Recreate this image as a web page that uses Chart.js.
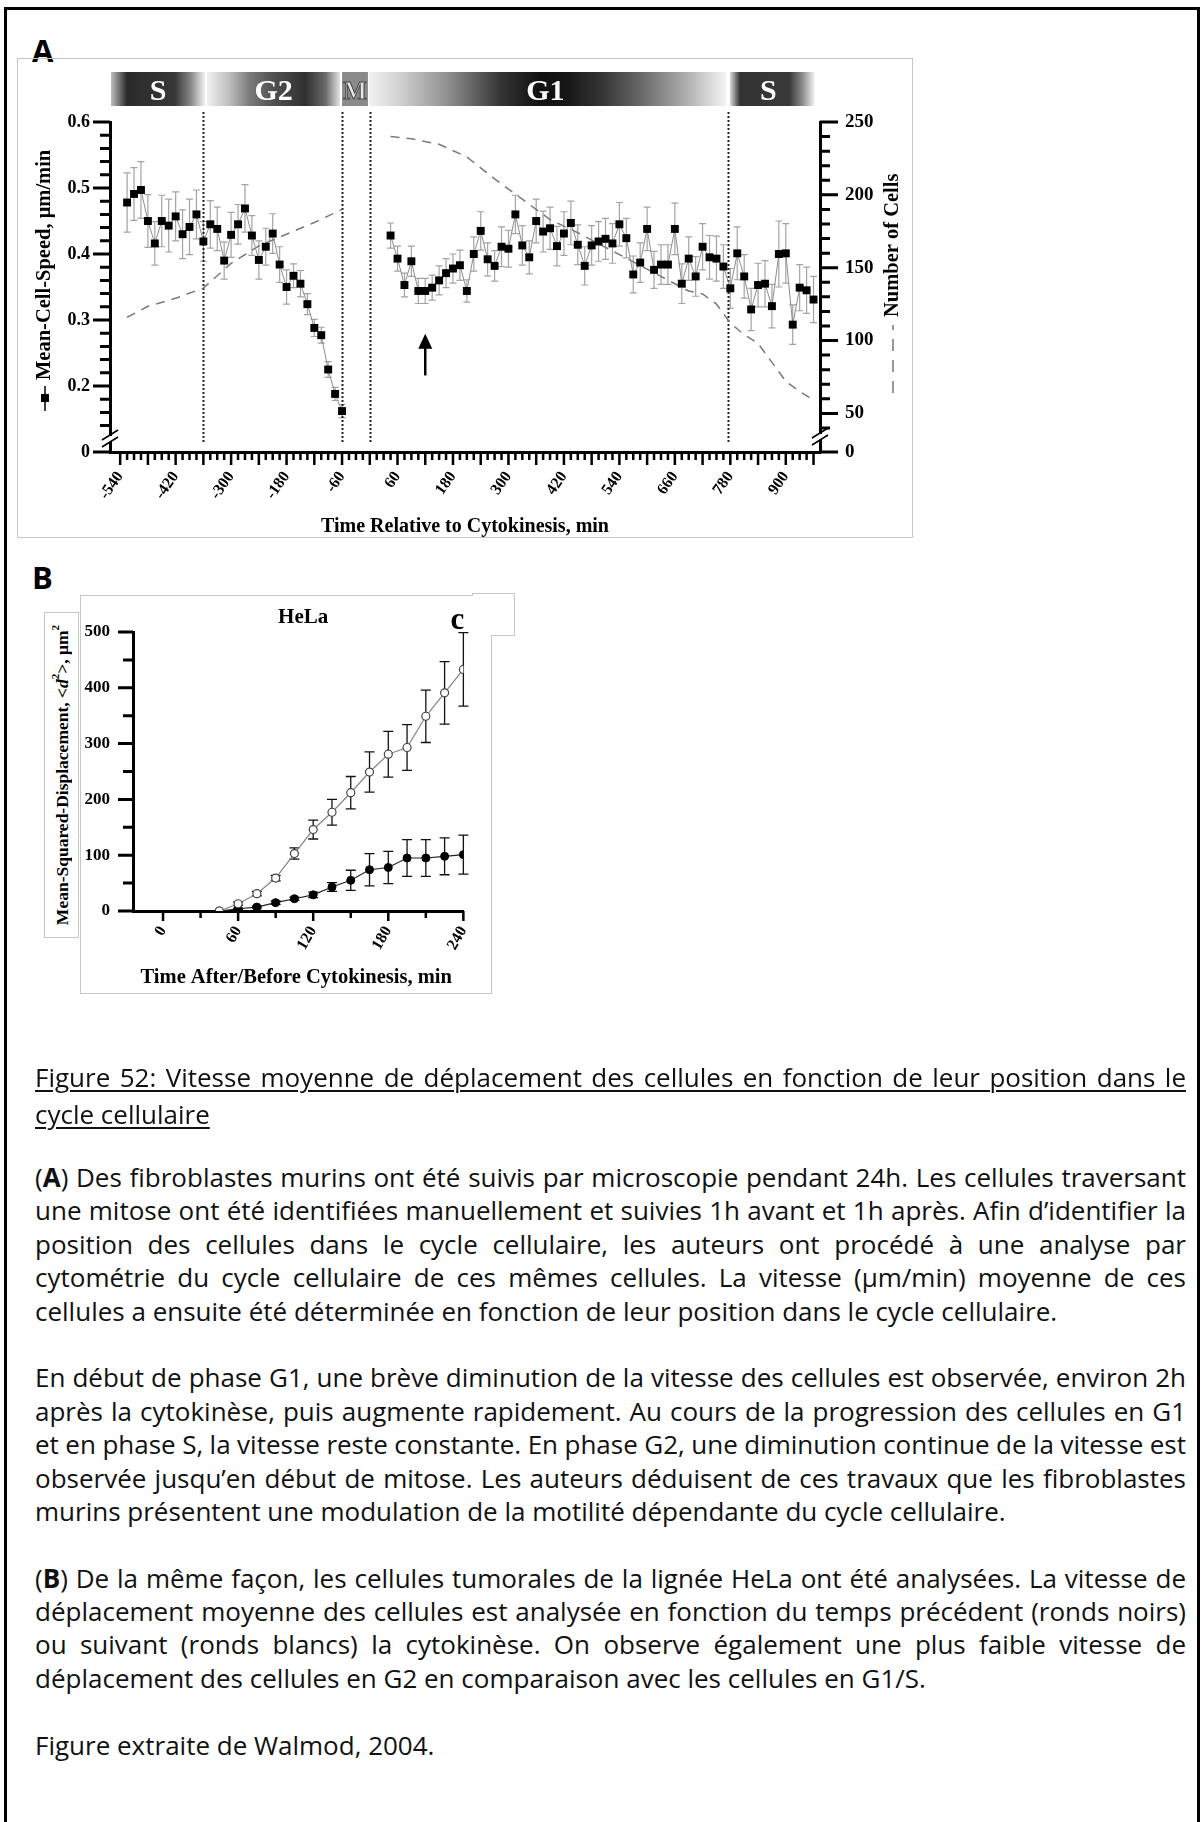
<!DOCTYPE html>
<html>
<head>
<meta charset="utf-8">
<title>Figure 52</title>
<script src="https://cdn.jsdelivr.net/npm/chart.js@4.4.1/dist/chart.umd.min.js"></script>
<style>
  html, body { margin: 0; padding: 0; background: #fff; }
  body { width: 1202px; height: 1822px; position: relative; overflow: hidden; }
  .frame { position: absolute; left: 4px; top: 7px; width: 1190px; height: 1830px; border: 3px solid #000; border-bottom: none; }
  .plabel { position: absolute; font: bold 31px "Open Sans", sans-serif; line-height: 31px; color: #000; }
  #boxA { position: absolute; left: 17px; top: 58px; width: 896px; height: 480px; }
  #boxB { position: absolute; left: 80px; top: 595px; width: 412px; height: 398px; }
  #frames { position: absolute; left: 0; top: 0; pointer-events: none; }
  #ytitleB { position: absolute; left: 44px; top: 612px; width: 34px; height: 326px; display: flex; align-items: center; justify-content: center; }
  #ytitleB span { writing-mode: vertical-rl; transform: rotate(180deg); font: bold 17.5px "Liberation Serif", serif; white-space: nowrap; }
  #ytitleB sup { font-size: 11px; }
  .text { position: absolute; left: 35px; width: 1151px; font-family: "Open Sans", sans-serif; font-size: 26px; color: #111; }
  .text div { white-space: nowrap; height: 33.4px; line-height: 33.4px; }
  #title div { height: 37px; line-height: 37px; }
  .u { text-decoration: underline; text-decoration-thickness: 2px; text-underline-offset: 3px; }
</style>
</head>
<body>
<div class="frame"></div>
<div class="plabel" style="left:32px; top:35px">A</div>
<div class="plabel" style="left:32px; top:562px">B</div>

<div id="boxA"><canvas id="chartA" width="896" height="480"></canvas></div>
<div id="boxB"><canvas id="chartB" width="412" height="398"></canvas></div>
<div id="ytitleB"><span>Mean-Squared-Displacement, &lt;<i>d</i><sup>2</sup>&gt;, μm<sup>2</sup></span></div>

<svg id="frames" width="1202" height="1100">
  <g stroke="#c6c6c6" stroke-width="1" fill="none" shape-rendering="crispEdges">
    <rect x="17.5" y="58.5" width="895" height="479"/>
    <polyline points="472,595.5 80.5,595.5 80.5,993.5 491.5,993.5 491.5,635.5 514.5,635.5 514.5,593.5 472,593.5 472,595.5"/>
    <rect x="44.5" y="612.5" width="34" height="325"/>
  </g>
</svg>

<div class="text" id="title" style="top:1059px">
  <div class="j"><span class="u">Figure 52: Vitesse moyenne de déplacement des cellules en fonction de leur position dans le</span></div>
  <div><span class="u">cycle cellulaire</span></div>
</div>

<div class="text" id="body" style="top:1161px">
  <div class="j"><span>(<b>A</b>) Des fibroblastes murins ont été suivis par microscopie pendant 24h. Les cellules traversant</span></div>
  <div class="j"><span>une mitose ont été identifiées manuellement et suivies 1h avant et 1h après. Afin d’identifier la</span></div>
  <div class="j"><span>position des cellules dans le cycle cellulaire, les auteurs ont procédé à une analyse par</span></div>
  <div class="j"><span>cytométrie du cycle cellulaire de ces mêmes cellules. La vitesse (µm/min) moyenne de ces</span></div>
  <div><span>cellules a ensuite été déterminée en fonction de leur position dans le cycle cellulaire.</span></div>
  <div></div>
  <div class="j"><span>En début de phase G1, une brève diminution de la vitesse des cellules est observée, environ 2h</span></div>
  <div class="j"><span>après la cytokinèse, puis augmente rapidement. Au cours de la progression des cellules en G1</span></div>
  <div class="j"><span>et en phase S, la vitesse reste constante. En phase G2, une diminution continue de la vitesse est</span></div>
  <div class="j"><span>observée jusqu’en début de mitose. Les auteurs déduisent de ces travaux que les fibroblastes</span></div>
  <div><span>murins présentent une modulation de la motilité dépendante du cycle cellulaire.</span></div>
  <div></div>
  <div class="j"><span>(<b>B</b>) De la même façon, les cellules tumorales de la lignée HeLa ont été analysées. La vitesse de</span></div>
  <div class="j"><span>déplacement moyenne des cellules est analysée en fonction du temps précédent (ronds noirs)</span></div>
  <div class="j"><span>ou suivant (ronds blancs) la cytokinèse. On observe également une plus faible vitesse de</span></div>
  <div><span>déplacement des cellules en G2 en comparaison avec les cellules en G1/S.</span></div>
  <div></div>
  <div><span>Figure extraite de Walmod, 2004.</span></div>
</div>

<script>
// ---- Panel A: mean cell speed (left axis) and number of cells (right axis)
var speedTimesBefore = [-525, -510, -495, -480, -465, -450, -435, -420, -405, -390, -375, -360, -345, -330, -315, -300,
  -285, -270, -255, -240, -225, -210, -195, -180, -165, -150, -135, -120, -105, -90, -75, -60];
var speedBefore = [0.478, 0.491, 0.497, 0.450, 0.416, 0.450, 0.443, 0.457, 0.430, 0.441, 0.460, 0.419, 0.445, 0.438, 0.390, 0.429,
  0.445, 0.469, 0.428, 0.391, 0.411, 0.431, 0.384, 0.350, 0.367, 0.355, 0.324, 0.288, 0.277, 0.225, 0.188, 0.162];
var speedErrBefore = [0.045, 0.040, 0.043, 0.040, 0.033, 0.039, 0.040, 0.037, 0.037, 0.042, 0.037, 0.030, 0.036, 0.033, 0.028, 0.034,
  0.030, 0.036, 0.030, 0.029, 0.028, 0.030, 0.027, 0.026, 0.018, 0.020, 0.016, 0.013, 0.012, 0.012, 0.010, 0.010];

var speedTimesAfter = [45, 60, 75, 90, 105, 120, 135, 150, 165, 180, 195, 210, 225, 240, 255, 270, 285, 300, 315, 330, 345,
  360, 375, 390, 405, 420, 435, 450, 465, 480, 495, 510, 525, 540, 555, 570, 585, 600, 615, 630, 645, 660, 675, 690,
  705, 720, 735, 750, 765, 780, 795, 810, 825, 840, 855, 870, 885, 900, 915, 930, 945, 960];
var speedAfter = [0.428, 0.393, 0.353, 0.389, 0.344, 0.344, 0.349, 0.360, 0.371, 0.378, 0.383, 0.344, 0.400, 0.435, 0.392, 0.382,
  0.411, 0.408, 0.460, 0.413, 0.395, 0.450, 0.434, 0.439, 0.412, 0.431, 0.447, 0.414, 0.382, 0.413, 0.419, 0.423, 0.416, 0.445,
  0.424, 0.369, 0.387, 0.438, 0.376, 0.384, 0.384, 0.438, 0.355, 0.393, 0.366, 0.411, 0.395, 0.393, 0.381, 0.348, 0.401, 0.366,
  0.316, 0.353, 0.355, 0.321, 0.400, 0.401, 0.293, 0.349, 0.345, 0.331];
var speedErrAfter = [0.019, 0.019, 0.018, 0.023, 0.019, 0.019, 0.019, 0.022, 0.022, 0.022, 0.023, 0.017, 0.026, 0.029, 0.025, 0.023,
  0.030, 0.028, 0.029, 0.030, 0.025, 0.033, 0.031, 0.032, 0.030, 0.033, 0.033, 0.030, 0.029, 0.030, 0.030, 0.031, 0.030, 0.033,
  0.030, 0.028, 0.030, 0.033, 0.028, 0.030, 0.030, 0.039, 0.030, 0.033, 0.030, 0.035, 0.033, 0.034, 0.033, 0.030, 0.040, 0.033,
  0.032, 0.033, 0.035, 0.033, 0.050, 0.045, 0.030, 0.035, 0.035, 0.035];

var cellTimesBefore = [-525, -480, -420, -360, -300, -240, -180, -120, -60];
var cellsBefore = [116, 123.5, 129, 136, 153, 165, 173, 181, 190];
var cellTimesAfter = [45, 90, 150, 210, 270, 330, 390, 450, 510, 570, 630, 690, 720, 750, 780, 810, 840, 870, 900, 930, 960];
var cellsAfter = [240, 238.5, 234.7, 226, 211, 197, 183, 174, 164, 154, 144, 134, 132, 125, 112, 104, 98, 85, 72, 65, 59];

var xTickLabelsA = [-540, -420, -300, -180, -60, 60, 180, 300, 420, 540, 660, 780, 900];
var yTickValuesA = [0.1, 0.2, 0.3, 0.4, 0.5, 0.6];
var yTickLabelsA = ['0', '0.2', '0.3', '0.4', '0.5', '0.6'];
var y2TickValuesA = [23.5, 50, 100, 150, 200, 250];
var y2TickLabelsA = ['0', '50', '100', '150', '200', '250'];

var phaseNames = ['S', 'G2', 'M', 'G1', 'S'];
var phaseStart = [-560, -352, -60, -2, 779];
var phaseEnd = [-356, -64, -4, 772, 963];
var phaseLabelAt = [-458, -208, -32, 380, 862];
var phaseLines = [-360, -60, 0, 775];
var arrowTime = 120, arrowFrom = 0.216, arrowTo = 0.279;

// ---- Panel B: HeLa mean squared displacement
var msdTimes = [45, 60, 75, 90, 105, 120, 135, 150, 165, 180, 195, 210, 225, 240];
var msdAfter = [0, 13, 31, 59, 103, 146, 177, 212, 249, 281, 293, 349, 391, 433];
var msdErrAfter = [0, 3, 4, 5, 10, 17, 23, 29, 36, 41, 41, 47, 56, 66];
var msdBefore = [0, 4, 7, 15, 22, 29, 43, 55, 74, 78, 95, 95, 98, 101];
var msdErrBefore = [0, 1, 2, 3, 3, 5, 8, 18, 29, 29, 33, 33, 33, 35];
var xTickLabelsB = [0, 60, 120, 180, 240];
var yTickLabelsB = [0, 100, 200, 300, 400, 500];

function pairs(xs, ys) {
  return xs.map(function (x, i) { return { x: x, y: ys[i] }; });
}

var SERIF = '"Liberation Serif", "Times New Roman", serif';
Chart.defaults.font.family = SERIF;
Chart.defaults.color = '#000';
Chart.defaults.animation = false;
Chart.defaults.events = [];
Chart.defaults.plugins.legend.display = false;
Chart.defaults.plugins.tooltip.enabled = false;

// vertical error bars drawn under the points
var errorBars = {
  id: 'errorBars',
  beforeDatasetsDraw: function (chart) {
    var ctx = chart.ctx;
    chart.data.datasets.forEach(function (ds, i) {
      if (!ds.errors) return;
      var meta = chart.getDatasetMeta(i);
      var ys = chart.scales[meta.yAxisID];
      ctx.save();
      ctx.strokeStyle = ds.errorColor;
      ctx.lineWidth = ds.errorWidth;
      ctx.beginPath();
      meta.data.forEach(function (pt, j) {
        var e = ds.errors[j];
        if (!e) return;
        var v = ds.data[j].y;
        var top = ys.getPixelForValue(v + e), bot = ys.getPixelForValue(v - e), w = ds.capHalf;
        ctx.moveTo(pt.x, top); ctx.lineTo(pt.x, bot);
        ctx.moveTo(pt.x - w, top); ctx.lineTo(pt.x + w, top);
        ctx.moveTo(pt.x - w, bot); ctx.lineTo(pt.x + w, bot);
      });
      ctx.stroke();
      ctx.restore();
    });
  }
};

function drawTicks(ctx, scale, values, isMajor, majorLen, minorLen, side, width) {
  ctx.save();
  ctx.strokeStyle = '#000';
  ctx.lineWidth = width;
  ctx.beginPath();
  values.forEach(function (v) {
    var p = scale.getPixelForValue(v);
    var len = isMajor(v) ? majorLen : minorLen;
    if (side === 'bottom') { ctx.moveTo(p, scale.top); ctx.lineTo(p, scale.top + len); }
    else if (side === 'left') { ctx.moveTo(scale.right, p); ctx.lineTo(scale.right - len, p); }
    else { ctx.moveTo(scale.left, p); ctx.lineTo(scale.left + len, p); }
  });
  ctx.stroke();
  ctx.restore();
}

function drawBreak(ctx, x, y) {
  ctx.save();
  ctx.fillStyle = '#fff';
  ctx.fillRect(x - 3, y - 3, 6, 6);
  ctx.strokeStyle = '#000';
  ctx.lineWidth = 1.6;
  ctx.beginPath();
  ctx.moveTo(x - 8, y + 1); ctx.lineTo(x + 8, y - 9);
  ctx.moveTo(x - 8, y + 8); ctx.lineTo(x + 8, y - 2);
  ctx.stroke();
  ctx.restore();
}

function verticalText(ctx, text, x, y, font) {
  ctx.save();
  ctx.translate(x, y);
  ctx.rotate(-Math.PI / 2);
  ctx.font = font;
  ctx.fillStyle = '#000';
  ctx.textAlign = 'left';
  ctx.textBaseline = 'middle';
  ctx.fillText(text, 0, 0);
  ctx.restore();
}

var phaseShades = [
  [[0, '#c0c0c0'], [0.17, '#2a2a2a'], [0.68, '#383838'], [0.85, '#8a8a8a'], [1, '#f4f4f4']],
  [[0, '#f0f0f0'], [0.17, '#bdbdbd'], [0.32, '#7a7a7a'], [0.5, '#505050'], [0.74, '#303030'], [0.89, '#6a6a6a'], [1, '#e6e6e6']],
  [[0, '#8a8a8a'], [1, '#8a8a8a']],
  [[0, '#f2f2f2'], [0.09, '#cfcfcf'], [0.23, '#8a8a8a'], [0.37, '#333333'], [0.48, '#111111'], [0.55, '#161616'],
    [0.65, '#343434'], [0.76, '#686868'], [0.88, '#aaaaaa'], [1, '#f5f5f5']],
  [[0, '#dcdcdc'], [0.12, '#333333'], [0.7, '#3a3a3a'], [0.85, '#8a8a8a'], [1, '#f5f5f5']]
];

var panelAExtras = {
  id: 'panelAExtras',
  beforeDatasetsDraw: function (chart) {
    var ctx = chart.ctx, xs = chart.scales.x, area = chart.chartArea;
    // cell-cycle phase band above the plot
    phaseNames.forEach(function (name, i) {
      var x0 = xs.getPixelForValue(phaseStart[i]), x1 = xs.getPixelForValue(phaseEnd[i]);
      var g = ctx.createLinearGradient(x0, 0, x1, 0);
      phaseShades[i].forEach(function (s) { g.addColorStop(s[0], s[1]); });
      ctx.fillStyle = g;
      ctx.fillRect(x0, area.top - 50, x1 - x0, 34);
      var cx = xs.getPixelForValue(phaseLabelAt[i]);
      ctx.save();
      ctx.textAlign = 'center';
      ctx.textBaseline = 'alphabetic';
      if (name === 'M') {
        ctx.font = 'bold 25px ' + SERIF;
        ctx.fillStyle = '#e6e6e6';
        ctx.strokeStyle = '#444';
        ctx.lineWidth = 1;
        ctx.fillText(name, cx, area.top - 23);
        ctx.strokeText(name, cx, area.top - 23);
      } else {
        ctx.font = 'bold 30px ' + SERIF;
        ctx.fillStyle = '#fff';
        ctx.fillText(name, cx, area.top - 22);
      }
      ctx.restore();
    });
    // dotted phase boundaries
    ctx.save();
    ctx.strokeStyle = '#222';
    ctx.lineWidth = 2;
    ctx.setLineDash([2, 2]);
    ctx.beginPath();
    phaseLines.forEach(function (t) {
      var x = Math.round(xs.getPixelForValue(t)) + 0.5;
      ctx.moveTo(x, area.top - 10);
      ctx.lineTo(x, area.bottom - 9);
    });
    ctx.stroke();
    ctx.restore();
  },
  afterDraw: function (chart) {
    var ctx = chart.ctx, xs = chart.scales.x, ys = chart.scales.y, y2 = chart.scales.y2, area = chart.chartArea;
    var xt = [], yt = [0.1], y2t = [23.5], v;
    for (v = -540; v <= 960; v += 15) xt.push(v);
    for (v = 14; v <= 60; v += 2) yt.push(v / 100);
    for (v = 40; v <= 250; v += 10) y2t.push(v);
    drawTicks(ctx, xs, xt, function (t) { return (t + 540) % 60 === 0; }, 13, 8, 'bottom', 2.5);
    drawTicks(ctx, ys, yt, function (t) { return Math.round(t * 100) % 10 === 0; }, 17, 10, 'left', 3);
    drawTicks(ctx, y2, y2t, function (t) { return t % 50 === 0 || t === 23.5; }, 18, 10, 'right', 3);
    drawBreak(ctx, area.left, area.bottom - 13);
    drawBreak(ctx, area.right, area.bottom - 15);

    // axis titles with their series markers
    var lx = area.left - 65;
    ctx.save();
    ctx.strokeStyle = '#000';
    ctx.lineWidth = 1.5;
    ctx.beginPath();
    ctx.moveTo(lx, area.bottom - 41); ctx.lineTo(lx, area.bottom - 66);
    ctx.stroke();
    ctx.fillStyle = '#000';
    ctx.fillRect(lx - 4, area.bottom - 58, 8, 8);
    ctx.restore();
    verticalText(ctx, 'Mean-Cell-Speed, μm/min', lx, area.bottom - 72, 'bold 20.5px ' + SERIF);

    var rx = area.right + 73;
    ctx.save();
    ctx.strokeStyle = '#777';
    ctx.lineWidth = 1.5;
    ctx.setLineDash([12, 9]);
    ctx.beginPath();
    ctx.moveTo(rx, area.bottom - 59); ctx.lineTo(rx, area.bottom - 127);
    ctx.stroke();
    ctx.restore();
    verticalText(ctx, 'Number of Cells', rx, area.bottom - 135, 'bold 20.5px ' + SERIF);

    ctx.save();
    ctx.font = 'bold 20px ' + SERIF;
    ctx.textAlign = 'center';
    ctx.fillStyle = '#000';
    ctx.fillText('Time Relative to Cytokinesis, min', (area.left + area.right) / 2, area.bottom + 80);
    ctx.restore();

    // arrow marking the early-G1 minimum
    var ax = xs.getPixelForValue(arrowTime), ayTip = ys.getPixelForValue(arrowTo), ayEnd = ys.getPixelForValue(arrowFrom);
    ctx.save();
    ctx.strokeStyle = '#000';
    ctx.fillStyle = '#000';
    ctx.lineWidth = 2.5;
    ctx.beginPath();
    ctx.moveTo(ax, ayEnd); ctx.lineTo(ax, ayTip + 10);
    ctx.stroke();
    ctx.beginPath();
    ctx.moveTo(ax, ayTip); ctx.lineTo(ax - 7, ayTip + 15); ctx.lineTo(ax + 7, ayTip + 15);
    ctx.closePath();
    ctx.fill();
    ctx.restore();
  }
};

var panelBExtras = {
  id: 'panelBExtras',
  afterDraw: function (chart) {
    var ctx = chart.ctx, xs = chart.scales.x, ys = chart.scales.y, area = chart.chartArea;
    var xt = [], yt = [], v;
    for (v = 0; v <= 240; v += 30) xt.push(v);
    for (v = 0; v <= 500; v += 50) yt.push(v);
    drawTicks(ctx, xs, xt, function (t) { return t % 60 === 0; }, 10, 7, 'bottom', 2.5);
    drawTicks(ctx, ys, yt, function (t) { return t % 100 === 0; }, 15, 10, 'left', 3);
    ctx.save();
    ctx.fillStyle = '#000';
    ctx.textAlign = 'center';
    ctx.font = 'bold 21px ' + SERIF;
    ctx.fillText('HeLa', (area.left + area.right) / 2 + 5, area.top - 9);
    ctx.font = 'bold 31px ' + SERIF;
    ctx.fillText('c', area.right - 6, area.top - 3);
    ctx.font = 'bold 20.5px ' + SERIF;
    ctx.fillText('Time After/Before Cytokinesis, min', (area.left + area.right) / 2 - 2, area.bottom + 72);
    ctx.restore();
  }
};

function fixedWidth(w) { return function (scale) { scale.width = w; }; }
function fixedHeight(h) { return function (scale) { scale.height = h; }; }
function setTicks(values) { return function (scale) { scale.ticks = values.map(function (v) { return { value: v }; }); }; }

document.addEventListener('DOMContentLoaded', function () {
  var tickFontA = { family: SERIF, weight: 'bold', size: 16 };

  new Chart(document.getElementById('chartA').getContext('2d'), {
    type: 'line',
    data: {
      datasets: [
        { data: pairs(speedTimesBefore, speedBefore), errors: speedErrBefore, errorColor: '#a3a3a3', errorWidth: 1.2, capHalf: 3.5,
          yAxisID: 'y', borderColor: '#8c8c8c', borderWidth: 1, pointStyle: 'rect', pointRadius: 5.6,
          pointBackgroundColor: '#000', pointBorderColor: '#000', pointBorderWidth: 0 },
        { data: pairs(speedTimesAfter, speedAfter), errors: speedErrAfter, errorColor: '#a3a3a3', errorWidth: 1.2, capHalf: 3.5,
          yAxisID: 'y', borderColor: '#8c8c8c', borderWidth: 1, pointStyle: 'rect', pointRadius: 5.6,
          pointBackgroundColor: '#000', pointBorderColor: '#000', pointBorderWidth: 0 },
        { data: pairs(cellTimesBefore, cellsBefore), yAxisID: 'y2', borderColor: '#7a7a7a', borderWidth: 1.5,
          borderDash: [9, 7], pointRadius: 0 },
        { data: pairs(cellTimesAfter, cellsAfter), yAxisID: 'y2', borderColor: '#7a7a7a', borderWidth: 1.5,
          borderDash: [9, 7], pointRadius: 0 }
      ]
    },
    options: {
      responsive: false,
      maintainAspectRatio: false,
      layout: { padding: { top: 64, left: 0, right: 0, bottom: 0 } },
      scales: {
        x: {
          type: 'linear', min: -562, max: 974, afterBuildTicks: setTicks(xTickLabelsA), afterFit: fixedHeight(86),
          grid: { display: false, drawTicks: false }, border: { display: true, color: '#000', width: 3 },
          ticks: { autoSkip: false, minRotation: 55, maxRotation: 55, padding: 16, font: tickFontA,
            callback: function (v) { return String(v); } }
        },
        y: {
          position: 'left', min: 0.1, max: 0.6, afterBuildTicks: setTicks(yTickValuesA), afterFit: fixedWidth(93),
          grid: { display: false, drawTicks: false }, border: { display: true, color: '#000', width: 3 },
          ticks: { padding: 20, font: { family: SERIF, weight: 'bold', size: 18 },
            callback: function (v, i) { return yTickLabelsA[i]; } }
        },
        y2: {
          position: 'right', min: 23.5, max: 250, afterBuildTicks: setTicks(y2TickValuesA), afterFit: fixedWidth(93),
          grid: { display: false, drawTicks: false }, border: { display: true, color: '#000', width: 3 },
          ticks: { padding: 25, font: { family: SERIF, weight: 'bold', size: 19 },
            callback: function (v, i) { return y2TickLabelsA[i]; } }
        }
      }
    },
    plugins: [errorBars, panelAExtras]
  });

  new Chart(document.getElementById('chartB').getContext('2d'), {
    type: 'line',
    data: {
      datasets: [
        { data: pairs(msdTimes, msdAfter), errors: msdErrAfter, errorColor: '#111', errorWidth: 1.3, capHalf: 5,
          borderColor: '#8a8a8a', borderWidth: 1.3, pointRadius: 4, pointBackgroundColor: '#fff',
          pointBorderColor: '#444', pointBorderWidth: 1.2 },
        { data: pairs(msdTimes, msdBefore), errors: msdErrBefore, errorColor: '#111', errorWidth: 1.3, capHalf: 5,
          borderColor: '#222', borderWidth: 1.2, pointRadius: 4, pointBackgroundColor: '#000',
          pointBorderColor: '#000', pointBorderWidth: 1 }
      ]
    },
    options: {
      responsive: false,
      maintainAspectRatio: false,
      layout: { padding: { top: 37, left: 0, right: 25, bottom: 0 } },
      scales: {
        x: {
          type: 'linear', min: -24, max: 240, afterBuildTicks: setTicks(xTickLabelsB), afterFit: fixedHeight(82),
          grid: { display: false, drawTicks: false }, border: { display: true, color: '#000', width: 3 },
          ticks: { autoSkip: false, minRotation: 60, maxRotation: 60, padding: 12,
            font: { family: SERIF, weight: 'bold', size: 16 }, callback: function (v) { return String(v); } }
        },
        y: {
          min: 0, max: 500, afterBuildTicks: setTicks(yTickLabelsB), afterFit: fixedWidth(53),
          grid: { display: false, drawTicks: false }, border: { display: true, color: '#000', width: 3 },
          ticks: { padding: 23, font: { family: SERIF, weight: 'bold', size: 17 },
            callback: function (v) { return String(v); } }
        }
      }
    },
    plugins: [errorBars, panelBExtras]
  });

  // stretch each justified caption line to the full text width
  document.querySelectorAll('.j > span').forEach(function (span) {
    var box = span.parentNode.clientWidth;
    var natural = span.getBoundingClientRect().width;
    var gaps = span.textContent.split(' ').length - 1;
    if (gaps > 0) span.style.wordSpacing = ((box - natural) / gaps) + 'px';
  });
});
</script>
</body>
</html>
